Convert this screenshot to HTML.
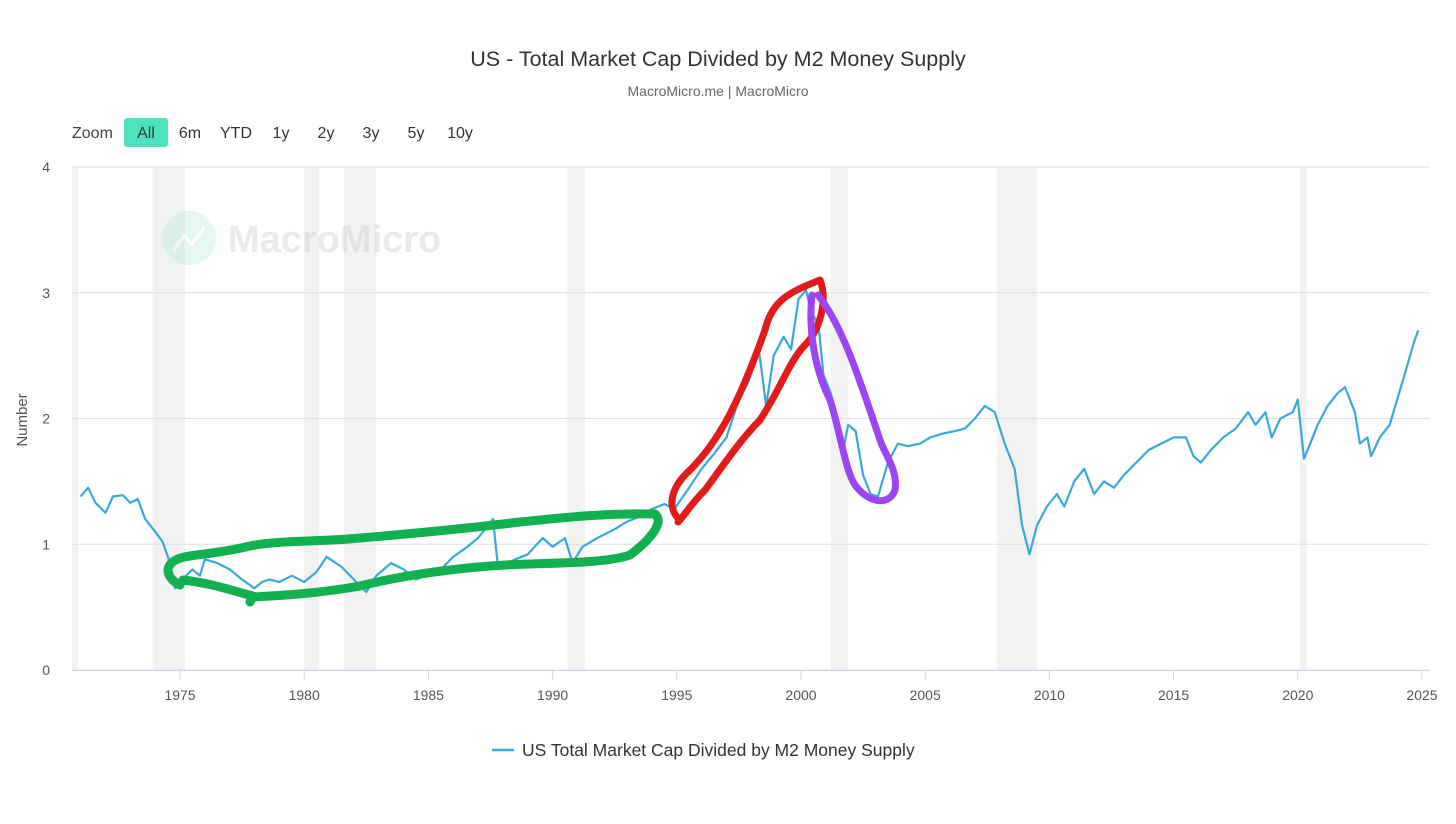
<!DOCTYPE html>
<html><head><meta charset="utf-8">
<style>
body{margin:0;background:#fff;font-family:"Liberation Sans",sans-serif;}
svg text{font-family:"Liberation Sans",sans-serif;}
</style></head>
<body>
<svg id="chart" width="1456" height="819" xmlns="http://www.w3.org/2000/svg">
<rect width="1456" height="819" fill="#fff"/>
<text x="718" y="66" text-anchor="middle" font-size="21.5" fill="#333">US - Total Market Cap Divided by M2 Money Supply</text>
<text x="718" y="96" text-anchor="middle" font-size="14" fill="#666">MacroMicro.me | MacroMicro</text>
<g font-size="16" fill="#333">
<text x="72" y="138" fill="#444">Zoom</text>
<rect x="124" y="118" width="44" height="29" rx="3" fill="#4de3bf"/>
<text x="146" y="138" text-anchor="middle">All</text>
<text x="190" y="138" text-anchor="middle">6m</text>
<text x="236" y="138" text-anchor="middle">YTD</text>
<text x="281" y="138" text-anchor="middle">1y</text>
<text x="326" y="138" text-anchor="middle">2y</text>
<text x="371" y="138" text-anchor="middle">3y</text>
<text x="416" y="138" text-anchor="middle">5y</text>
<text x="460" y="138" text-anchor="middle">10y</text>
</g>
<g id="bands"></g>
<g id="grid"></g>
<g opacity="0.35">
<circle cx="189" cy="238" r="27" fill="#b6ecd9"/>
<path d="M174 250 L184 236 L192 244 L204 228" stroke="#fff" stroke-width="3" fill="none"/>
<text x="228" y="252" font-size="38" font-weight="bold" fill="#c8c8c8">MacroMicro</text>
</g>
<g id="axes"></g>
<path id="series" fill="none" stroke="#3aa8d8" stroke-width="2.2" stroke-linejoin="round"/>
<g fill="none" stroke-linecap="round" stroke-linejoin="round">
<path stroke="#12b050" stroke-width="9" d="M180 585 C165 578 160 560 190 556 C210 553 225 552 250 546 C280 540 320 542 360 538 C420 533 470 528 520 522 C560 518 600 513 655 514 C665 522 650 540 630 555 C600 565 540 562 490 566 C440 570 400 576 360 586 C320 593 290 595 253 597 L250 602 M253 596 C230 590 210 583 183 580"/>
<path stroke="#e31a1c" stroke-width="7" d="M680 520 C668 510 668 490 690 470 C720 440 740 400 765 330 C772 300 790 292 820 280 C828 300 820 330 805 345 C790 360 780 390 760 420 C740 440 720 470 705 490 C690 505 685 515 678 522"/>
<path stroke="#9b45f5" stroke-width="7" d="M812 295 C808 330 815 370 830 400 C840 430 845 470 855 485 C870 505 890 505 895 490 C898 470 885 455 880 440 C870 410 860 380 850 355 C840 330 830 310 818 295"/>
</g>
<text transform="translate(27,420) rotate(-90)" text-anchor="middle" font-size="15" fill="#555">Number</text>
<g>
<line x1="492" y1="750" x2="514" y2="750" stroke="#3aa8d8" stroke-width="2.5"/>
<text x="522" y="756" font-size="17.5" fill="#333">US Total Market Cap Divided by M2 Money Supply</text>
</g>
</svg>
<script>
const years=[1971.0,1971.3,1971.6,1972.0,1972.3,1972.7,1973.0,1973.3,1973.6,1974.0,1974.3,1974.6,1974.8,1975.0,1975.5,1975.8,1976.0,1976.5,1977.0,1977.5,1978.0,1978.3,1978.6,1979.0,1979.5,1980.0,1980.5,1980.9,1981.5,1982.0,1982.5,1982.9,1983.5,1984.0,1984.5,1985.0,1985.5,1986.0,1986.5,1987.0,1987.6,1987.8,1988.5,1989.0,1989.6,1990.0,1990.5,1990.8,1991.2,1991.8,1992.5,1993.0,1993.5,1994.0,1994.5,1994.9,1995.5,1996.0,1996.5,1997.0,1997.5,1997.9,1998.3,1998.6,1998.9,1999.3,1999.6,1999.9,2000.2,2000.4,2000.7,2000.9,2001.2,2001.5,2001.7,2001.9,2002.2,2002.5,2002.8,2003.1,2003.5,2003.9,2004.3,2004.8,2005.2,2005.7,2006.2,2006.6,2007.0,2007.4,2007.8,2008.2,2008.6,2008.9,2009.2,2009.5,2009.9,2010.3,2010.6,2011.0,2011.4,2011.8,2012.2,2012.6,2013.0,2013.5,2014.0,2014.5,2015.0,2015.5,2015.8,2016.1,2016.5,2017.0,2017.5,2018.0,2018.3,2018.7,2018.95,2019.3,2019.8,2020.0,2020.25,2020.5,2020.8,2021.2,2021.6,2021.9,2022.3,2022.5,2022.8,2022.95,2023.3,2023.7,2024.0,2024.3,2024.7,2024.85];
const values=[1.38,1.45,1.33,1.25,1.38,1.39,1.33,1.36,1.2,1.1,1.02,0.85,0.65,0.7,0.8,0.75,0.88,0.85,0.8,0.72,0.65,0.7,0.72,0.7,0.75,0.7,0.78,0.9,0.82,0.72,0.62,0.75,0.85,0.8,0.72,0.76,0.8,0.9,0.97,1.05,1.2,0.82,0.88,0.92,1.05,0.98,1.05,0.85,0.98,1.05,1.12,1.18,1.22,1.28,1.32,1.28,1.45,1.6,1.72,1.85,2.15,2.3,2.55,2.1,2.5,2.65,2.55,2.95,3.02,2.85,2.75,2.35,2.2,1.95,1.75,1.95,1.9,1.55,1.4,1.38,1.65,1.8,1.78,1.8,1.85,1.88,1.9,1.92,2.0,2.1,2.05,1.8,1.6,1.15,0.92,1.15,1.3,1.4,1.3,1.5,1.6,1.4,1.5,1.45,1.55,1.65,1.75,1.8,1.85,1.85,1.7,1.65,1.75,1.85,1.92,2.05,1.95,2.05,1.85,2.0,2.05,2.15,1.68,1.8,1.95,2.1,2.2,2.25,2.05,1.8,1.85,1.7,1.85,1.95,2.15,2.35,2.62,2.7];
const recessions=[[1969.9,1970.9],[1973.9,1975.2],[1980.0,1980.6],[1981.6,1982.9],[1990.6,1991.3],[2001.2,2001.9],[2007.9,2009.5],[2020.1,2020.35]];
const yTicks=[0,1,2,3,4];
const xTicks=[1975,1980,1985,1990,1995,2000,2005,2010,2015,2020,2025];
const X0=72,X1=1430,Y0=670,Y1=167;
const xs=y=>180+(y-1975)*24.84;
const ys=v=>Y0-(v/4)*(Y0-Y1);
const NS="http://www.w3.org/2000/svg";
function mk(t,a,p){const e=document.createElementNS(NS,t);for(const k in a)e.setAttribute(k,a[k]);p.appendChild(e);return e;}
const bands=document.getElementById('bands');
recessions.forEach(r=>{const x1=Math.max(X0,xs(r[0]));const e=mk('rect',{x:x1,y:Y1,width:xs(r[1])-x1,height:Y0-Y1,fill:'#f2f2f2'},bands);

});
const grid=document.getElementById('grid');
yTicks.forEach(t=>{const l=mk('line',{x1:X0,x2:X1,y1:ys(t),y2:ys(t),stroke:'#e0e0e0','stroke-width':1},grid);


const tx=mk('text',{x:50,y:ys(t)+5,'text-anchor':'end','font-size':14,fill:'#555'},grid);tx.textContent=t;

});
const axes=document.getElementById('axes');
mk('line',{x1:X0,x2:X1,y1:Y0+0.5,y2:Y0+0.5,stroke:'#ccd6eb'},axes);
xTicks.forEach(t=>{mk('line',{x1:xs(t),x2:xs(t),y1:Y0,y2:Y0+10,stroke:'#ccd6eb'},axes);
const tx=mk('text',{x:xs(t),y:Y0+30,'text-anchor':'middle','font-size':14,fill:'#555'},axes);tx.textContent=t;

});
document.getElementById('series').setAttribute('d',years.map((y,i)=>(i?'L':'M')+xs(y).toFixed(1)+' '+ys(values[i]).toFixed(1)).join(' '));
</script>
</body></html>
